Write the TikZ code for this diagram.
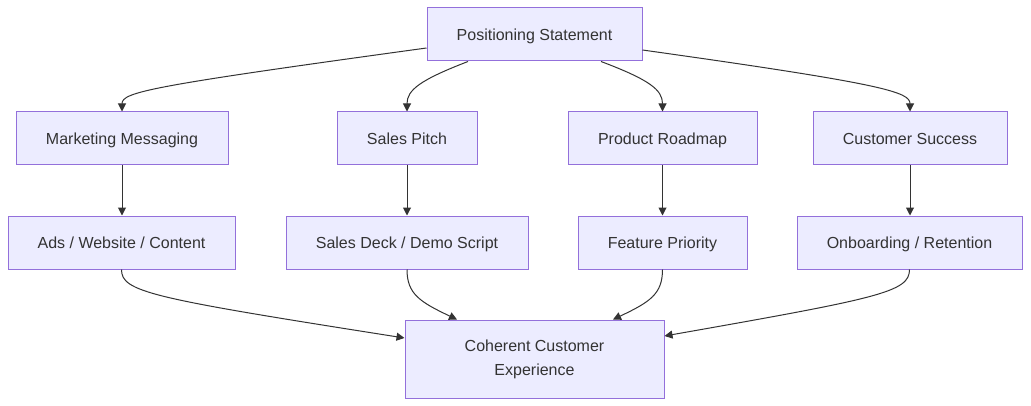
\documentclass[tikz,border=0pt]{standalone}
\usepackage{fontspec}
\setmainfont{Liberation Sans}
\usetikzlibrary{arrows.meta,calc}
\definecolor{nodefill}{HTML}{ECECFF}
\definecolor{nodeline}{HTML}{9370DB}
\definecolor{txt}{HTML}{333333}
\begin{document}
\begin{tikzpicture}[x=0.75pt,y=-0.75pt,
  box/.style={draw=nodeline,fill=nodefill,line width=0.75pt,text=txt,
    font=\fontsize{12}{18}\selectfont,minimum height=39.75pt,inner sep=0pt,align=center},
  one/.style={box,text height=10.6pt,text depth=2pt},
  conn/.style={draw=txt,line width=0.75pt,-{Triangle[length=6pt,width=6pt]}}]
\useasboundingbox (0,0) rectangle (1031,406);
\node[one,minimum width=161.25pt] (ps) at (534.5,34.5) {Positioning Statement};
\node[one,minimum width=159pt] (mm) at (122,138.5) {Marketing Messaging};
\node[one,minimum width=105pt] (sp) at (407,138.5) {Sales Pitch};
\node[one,minimum width=141.75pt] (pr) at (662.5,138.5) {Product Roadmap};
\node[one,minimum width=145.5pt] (cs) at (910,138.5) {Customer Success};
\node[one,minimum width=170.25pt] (ads) at (121.5,242.5) {Ads / Website / Content};
\node[one,minimum width=181.5pt] (sd) at (407,242.5) {Sales Deck / Demo Script};
\node[one,minimum width=126.75pt] (fp) at (662.5,242.5) {Feature Priority};
\node[one,minimum width=168.75pt] (or) at (909.5,242.5) {Onboarding / Retention};
\node[box,minimum width=194.25pt,minimum height=58.5pt] (cce) at (534.5,359) {Coherent Customer\\Experience};
% top fan-out
\draw[conn] ($(ps.west)+(0,13.5)$) .. controls (150,86) and (122,92) .. (mm.north);
\draw[conn] ($(ps.south)+(-66.5,0)$) .. controls (420,80) and (407,90) .. (sp.north);
\draw[conn] ($(ps.south)+(66.5,0)$) .. controls (650,80) and (662.5,90) .. (pr.north);
\draw[conn] ($(ps.east)+(0,15.5)$) .. controls (885,84) and (910,92) .. (cs.north);
% verticals
\draw[conn] (mm.south) -- (mm.south|-ads.north);
\draw[conn] (sp) -- (sd);
\draw[conn] (pr) -- (fp);
\draw[conn] (cs.south) -- (cs.south|-or.north);
% fan-in
\draw[conn] (ads.south) .. controls (121.5,292) and (150,298) .. ($(cce.west)+(0,-21)$);
\draw[conn] (sd.south) .. controls (407,294) and (420,302) .. ($(cce.north)+(-77.5,0)$);
\draw[conn] (fp.south) .. controls (662.5,294) and (650,302) .. ($(cce.north)+(78.5,0)$);
\draw[conn] (or.south) .. controls (909.5,292) and (880,298) .. ($(cce.east)+(0,-23)$);
\end{tikzpicture}
\end{document}
